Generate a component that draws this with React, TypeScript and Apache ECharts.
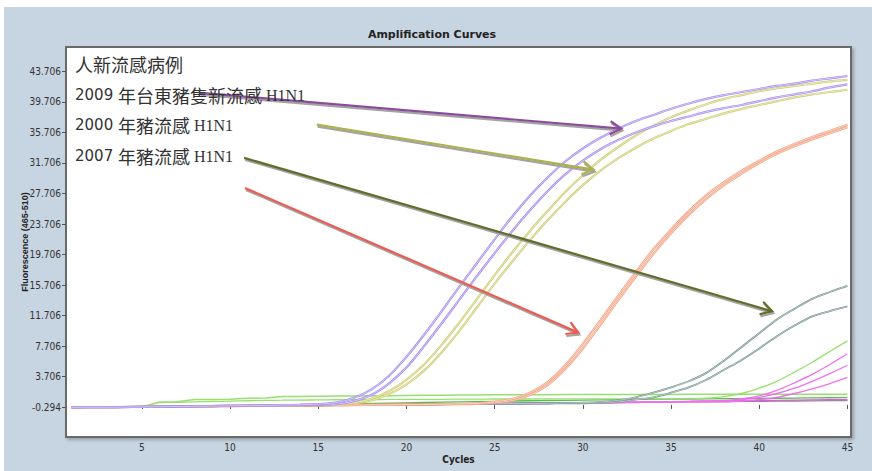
import React, { useEffect, useRef } from 'react';
import * as echarts from 'echarts';

const cycles = [1,2,3,4,5,6,7,8,9,10,11,12,13,14,15,16,17,18,19,20,21,22,23,24,25,26,27,28,29,30,31,32,33,34,35,36,37,38,39,40,41,42,43,44,45];
const xTicks = [5,10,15,20,25,30,35,40,45];
const yTicks = [-0.294,3.706,7.706,11.706,15.706,19.706,23.706,27.706,31.706,35.706,39.706,43.706];

// 2009 Taitung swine (purple)
const purple1 = [-0.32,-0.30,-0.30,-0.28,-0.26,-0.24,-0.20,-0.18,-0.15,-0.12,-0.10,-0.06,-0.02,0.02,0.12,0.30,0.90,2.0,3.8,6.3,9.2,12.3,15.5,18.6,21.7,24.7,27.4,29.8,31.9,33.6,35.0,36.2,37.2,38.0,38.8,39.5,40.1,40.6,41.0,41.4,41.8,42.1,42.5,42.8,43.1];
const purple2 = [-0.30,-0.30,-0.28,-0.27,-0.25,-0.22,-0.20,-0.17,-0.14,-0.12,-0.09,-0.06,-0.03,0.00,0.05,0.10,0.50,1.3,2.8,4.9,7.7,10.7,13.8,16.9,19.9,22.8,25.5,28.0,30.2,32.0,33.5,34.7,35.7,36.5,37.2,37.8,38.4,38.9,39.3,39.8,40.3,40.7,41.1,41.6,42.0];
// 2000 swine (yellow)
const yellow1 = [-0.30,-0.29,-0.28,-0.26,-0.24,-0.22,-0.19,-0.16,-0.13,-0.10,-0.08,-0.05,-0.02,0.01,0.05,0.12,0.30,0.8,1.8,3.3,5.3,7.9,10.8,13.9,17.0,20.0,22.8,25.4,27.9,30.1,32.1,33.8,35.3,36.6,37.7,38.6,39.4,40.1,40.6,41.1,41.5,41.8,42.1,42.4,42.6];
const yellow2 = [-0.31,-0.30,-0.29,-0.27,-0.25,-0.23,-0.21,-0.18,-0.15,-0.12,-0.09,-0.06,-0.03,0.00,0.04,0.09,0.20,0.6,1.4,2.7,4.5,6.9,9.7,12.8,15.9,18.8,21.6,24.2,26.6,28.8,30.7,32.3,33.7,34.9,35.9,36.8,37.5,38.2,38.8,39.3,39.8,40.3,40.7,41.0,41.3];
// human (orange)
const orange1 = [-0.30,-0.29,-0.28,-0.27,-0.25,-0.23,-0.21,-0.19,-0.17,-0.15,-0.13,-0.11,-0.09,-0.07,-0.05,-0.03,-0.01,0.01,0.03,0.05,0.07,0.10,0.14,0.2,0.4,0.8,1.6,3.0,5.2,8.0,11.1,14.3,17.4,20.4,23.0,25.4,27.5,29.2,30.7,32.0,33.2,34.2,35.1,35.9,36.7];
const orange2 = [-0.31,-0.30,-0.29,-0.28,-0.26,-0.24,-0.22,-0.20,-0.18,-0.16,-0.14,-0.12,-0.10,-0.08,-0.06,-0.04,-0.02,0.00,0.02,0.04,0.06,0.08,0.11,0.15,0.3,0.6,1.3,2.6,4.7,7.4,10.5,13.7,16.8,19.8,22.5,24.9,27.0,28.8,30.3,31.7,32.9,33.9,34.8,35.6,36.4];
// 2007 swine (dark grey)
const grey1 = [-0.28,-0.27,-0.26,-0.25,-0.24,-0.22,-0.20,-0.18,-0.16,-0.14,-0.12,-0.10,-0.08,-0.06,-0.04,-0.02,0.00,0.02,0.04,0.06,0.08,0.10,0.12,0.14,0.16,0.18,0.20,0.22,0.25,0.3,0.4,0.6,1.0,1.6,2.3,3.1,4.2,5.8,7.6,9.4,11.2,12.6,13.9,14.8,15.6];
const grey2 = [-0.29,-0.28,-0.27,-0.26,-0.25,-0.23,-0.21,-0.19,-0.17,-0.15,-0.13,-0.11,-0.09,-0.07,-0.05,-0.03,-0.01,0.01,0.03,0.05,0.07,0.09,0.11,0.13,0.15,0.17,0.18,0.19,0.20,0.2,0.3,0.4,0.7,1.0,1.6,2.3,3.3,4.6,5.9,7.4,9.0,10.4,11.6,12.3,12.9];
// late risers
const greenRise = [-0.30,-0.30,-0.30,-0.28,-0.25,0.30,0.35,0.40,0.45,0.50,0.55,0.60,0.62,0.64,0.66,0.68,0.70,0.70,0.72,0.72,0.74,0.74,0.76,0.76,0.78,0.78,0.78,0.80,0.80,0.80,0.80,0.80,0.80,0.80,0.80,0.8,0.9,1.1,1.5,2.2,3.1,4.3,5.6,7.0,8.4];
const magenta1 = [-0.28,-0.27,-0.26,-0.24,-0.22,-0.20,-0.18,-0.16,-0.14,-0.12,-0.10,-0.08,-0.06,-0.04,-0.02,0.00,0.02,0.04,0.06,0.08,0.10,0.12,0.14,0.16,0.18,0.20,0.22,0.24,0.26,0.28,0.30,0.33,0.36,0.39,0.42,0.46,0.52,0.6,0.8,1.2,1.9,2.9,4.0,5.3,6.7];
const magenta2 = [-0.29,-0.28,-0.27,-0.25,-0.23,-0.21,-0.19,-0.17,-0.15,-0.13,-0.11,-0.09,-0.07,-0.05,-0.03,-0.01,0.01,0.03,0.05,0.07,0.09,0.11,0.13,0.15,0.17,0.19,0.21,0.23,0.25,0.27,0.29,0.31,0.34,0.37,0.40,0.43,0.47,0.5,0.7,1.0,1.5,2.2,3.1,4.1,5.2];
const magenta3 = [-0.30,-0.29,-0.28,-0.26,-0.24,-0.22,-0.20,-0.18,-0.16,-0.14,-0.12,-0.10,-0.08,-0.06,-0.04,-0.02,0.00,0.02,0.04,0.06,0.08,0.10,0.12,0.14,0.16,0.18,0.20,0.22,0.24,0.26,0.28,0.30,0.32,0.34,0.36,0.38,0.40,0.4,0.5,0.7,1.0,1.5,2.1,2.8,3.6];
// negatives / baselines
const baseGreenA = [-0.30,-0.30,-0.29,-0.28,-0.26,0.40,0.42,0.70,0.72,0.74,0.88,0.90,1.10,1.12,1.14,1.16,1.18,1.20,1.22,1.24,1.26,1.28,1.30,1.30,1.32,1.32,1.34,1.34,1.36,1.36,1.36,1.38,1.38,1.38,1.38,1.40,1.40,1.40,1.40,1.40,1.40,1.40,1.40,1.40,1.40];
const baseGreenB = [-0.33,-0.32,-0.31,-0.30,-0.28,-0.26,-0.24,-0.20,-0.16,-0.12,-0.08,-0.04,0.00,0.04,0.08,0.12,0.16,0.20,0.24,0.28,0.32,0.36,0.40,0.44,0.48,0.52,0.55,0.58,0.61,0.64,0.67,0.70,0.72,0.74,0.76,0.78,0.80,0.82,0.84,0.86,0.88,0.90,0.92,0.94,0.96];
const baseMagenta = [-0.30,-0.30,-0.29,-0.28,-0.27,-0.25,-0.23,-0.21,-0.19,-0.17,-0.15,-0.13,-0.11,-0.09,-0.07,-0.05,-0.03,-0.01,0.01,0.03,0.05,0.07,0.09,0.11,0.13,0.16,0.19,0.22,0.25,0.28,0.31,0.34,0.37,0.40,0.43,0.46,0.49,0.52,0.55,0.58,0.61,0.64,0.67,0.69,0.71];
const baseGrey = [-0.26,-0.25,-0.24,-0.23,-0.22,-0.20,-0.18,-0.16,-0.14,-0.12,-0.10,-0.08,-0.06,-0.04,-0.02,0.00,0.02,0.04,0.06,0.08,0.10,0.12,0.14,0.16,0.18,0.20,0.22,0.24,0.26,0.28,0.30,0.32,0.34,0.36,0.38,0.40,0.42,0.44,0.46,0.48,0.50,0.52,0.54,0.56,0.58];

const annotationLines = [
  [{ t: '人新流感病例', s: 'c' }],
  [{ t: '2009', s: 'd' }, { t: ' ', s: 'd' }, { t: '年台東豬隻新流感', s: 'c' }, { t: ' H1N1', s: 'l' }],
  [{ t: '2000', s: 'd' }, { t: ' ', s: 'd' }, { t: '年豬流感', s: 'c' }, { t: ' H1N1', s: 'l' }],
  [{ t: '2007', s: 'd' }, { t: ' ', s: 'd' }, { t: '年豬流感', s: 'c' }, { t: ' H1N1', s: 'l' }],
];

// arrows in data coordinates [cycle, fluorescence]
const arrows = [
  { color: '#8b4c9c', from: [8.29, 40.9], to: [32.18, 36.2] },
  { color: '#adb24e', from: [14.91, 36.73], to: [30.61, 30.84] },
  { color: '#646b2b', from: [10.8, 32.37], to: [40.73, 12.28] },
  { color: '#ef5b50', from: [10.84, 28.44], to: [29.74, 9.49] },
];

const curves = [
  { data: baseGrey, color: '#8c8c8c', w: 1.3, smooth: false, hollow: false },
  { data: baseMagenta, color: '#e456e4', w: 1.3, smooth: false, hollow: false },
  { data: baseGreenB, color: '#52c04a', w: 1.3, smooth: false, hollow: false },
  { data: baseGreenA, color: '#96e070', w: 1.5, smooth: false, hollow: false },
  { data: magenta3, color: '#f070f0', w: 1.3, smooth: true, hollow: false },
  { data: magenta2, color: '#f070f0', w: 1.3, smooth: true, hollow: false },
  { data: magenta1, color: '#f070f0', w: 1.3, smooth: true, hollow: false },
  { data: greenRise, color: '#98e070', w: 1.3, smooth: true, hollow: false },
  { data: grey2, color: '#6f8b8b', w: 1.8, smooth: true, hollow: true },
  { data: grey1, color: '#6f8b8b', w: 1.8, smooth: true, hollow: true },
  { data: orange2, color: '#f4a282', w: 2.2, smooth: true, hollow: true },
  { data: orange1, color: '#f4a282', w: 2.2, smooth: true, hollow: true },
  { data: yellow2, color: '#cfcd72', w: 2.2, smooth: true, hollow: true },
  { data: yellow1, color: '#cfcd72', w: 2.2, smooth: true, hollow: true },
  { data: purple2, color: '#a68bf0', w: 2.2, smooth: true, hollow: true },
  { data: purple1, color: '#a68bf0', w: 2.2, smooth: true, hollow: true },
];

const tickFont = "'Liberation Sans Narrow', 'DejaVu Sans Condensed', 'Liberation Sans', Arial, sans-serif";

export default function App() {
  const ref = useRef<HTMLDivElement>(null);
  useEffect(() => {
    if (!ref.current) return;
    const chart = echarts.init(ref.current, null, { renderer: 'svg' });
    const series: any[] = [];
    curves.forEach((c) => {
      const data = cycles.map((x, i) => [x, c.data[i]]);
      series.push({
        type: 'line', data, showSymbol: false, silent: true,
        smooth: c.smooth ? 0.3 : false,
        lineStyle: { color: c.color, width: c.w },
      });
      if (c.hollow) {
        series.push({
          type: 'line', data, showSymbol: false, silent: true,
          smooth: c.smooth ? 0.3 : false,
          lineStyle: { color: '#ffffff', width: 0.7, opacity: 0.75 },
        });
      }
    });
    chart.setOption({
      animation: false,
      grid: {
        left: 66, right: 21, top: 47, bottom: 34, show: true,
        backgroundColor: '#ffffff', borderColor: '#6a6a6a', borderWidth: 2,
        shadowColor: 'rgba(0,0,0,0.25)', shadowBlur: 3, shadowOffsetX: 2, shadowOffsetY: 2,
      },
      xAxis: {
        type: 'value', min: 0.7, max: 45.2,
        axisLine: { show: false }, splitLine: { show: false },
        axisTick: { show: true, customValues: xTicks, length: 4, lineStyle: { color: '#555' } },
        axisLabel: { customValues: xTicks, fontSize: 10, color: '#333', margin: 5, fontFamily: tickFont },
        name: 'Cycles', nameLocation: 'middle', nameGap: 17, nameMoveOverlap: false,
        nameTextStyle: { fontWeight: 'bold', fontSize: 10, color: '#222', fontFamily: tickFont },
      },
      yAxis: {
        type: 'value', min: -4.2, max: 46.9,
        axisLine: { show: false }, splitLine: { show: false },
        axisTick: { show: true, customValues: yTicks, length: 4, lineStyle: { color: '#555' } },
        axisLabel: {
          customValues: yTicks, fontSize: 10, color: '#333', margin: 5, fontFamily: tickFont,
          formatter: (v: number) => v.toFixed(3),
        },
        name: 'Fluorescence (465-510)', nameLocation: 'middle', nameGap: 37, nameMoveOverlap: false,
        nameTextStyle: { fontWeight: 'bold', fontSize: 9, color: '#222', fontFamily: "'Liberation Sans', Arial, sans-serif" },
      },
      series,
    });

    const graphics: any[] = [];
    graphics.push({
      type: 'text', x: 432, y: 34,
      style: {
        text: 'Amplification Curves', fontSize: 11, fontWeight: 'bold',
        fontFamily: "'DejaVu Sans', sans-serif", fill: '#222',
        align: 'center', verticalAlign: 'middle',
      },
      z: 100,
    });
    const rowY = [64, 95, 125, 156];
    annotationLines.forEach((parts, i) => {
      graphics.push({
        type: 'text', x: 75, y: rowY[i], z: 100,
        style: {
          text: parts.map((p) => `{${p.s}|${p.t}}`).join(''),
          verticalAlign: 'middle', fill: '#333333',
          rich: {
            c: { fontSize: 18, fontFamily: "'Noto Sans CJK TC', sans-serif", fill: '#333333' },
            d: { fontSize: 15, fontFamily: "'DejaVu Sans', sans-serif", fill: '#333333' },
            l: { fontSize: 16, fontFamily: "'Liberation Serif', serif", fill: '#333333' },
          },
        },
      });
    });
    arrows.forEach((a) => {
      const p0 = chart.convertToPixel({ gridIndex: 0 }, a.from) as number[];
      const p1 = chart.convertToPixel({ gridIndex: 0 }, a.to) as number[];
      const dx = p1[0] - p0[0];
      const dy = p1[1] - p0[1];
      const len = Math.sqrt(dx * dx + dy * dy);
      const ux = dx / len, uy = dy / len;
      const L = 13, ang = (30 * Math.PI) / 180;
      const head = (sgn: number) => {
        const c = Math.cos(sgn * ang), s = Math.sin(sgn * ang);
        const rx = ux * c - uy * s, ry = ux * s + uy * c;
        return [p1[0] - L * rx, p1[1] - L * ry];
      };
      const h1 = head(1), h2 = head(-1);
      const off = (p: number[]) => [p[0] + 1, p[1] + 2];
      const shadowStyle = { stroke: '#a3a3a3', lineWidth: 2.2, fill: null, lineJoin: 'miter' };
      graphics.push({ type: 'polyline', z: 90, shape: { points: [off(p0), off(p1)] }, style: shadowStyle });
      graphics.push({ type: 'polyline', z: 90, shape: { points: [off(h1), off(p1), off(h2)] }, style: shadowStyle });
      const st = { stroke: a.color, lineWidth: 2.2, fill: null, lineJoin: 'miter' };
      graphics.push({ type: 'polyline', z: 91, shape: { points: [p0, p1] }, style: st });
      graphics.push({ type: 'polyline', z: 91, shape: { points: [h1, p1, h2] }, style: st });
    });
    chart.setOption({ graphic: graphics });
    return () => chart.dispose();
  }, []);
  return (
    <div style={{ position: 'fixed', left: 0, top: 0, width: 872, height: 471, background: '#ffffff' }}>
      <div style={{ position: 'absolute', left: 4, top: 7, right: 0, bottom: 0, background: '#c7d4e1' }} />
      <div ref={ref} style={{ position: 'absolute', left: 0, top: 0, width: 872, height: 471 }} />
    </div>
  );
}
